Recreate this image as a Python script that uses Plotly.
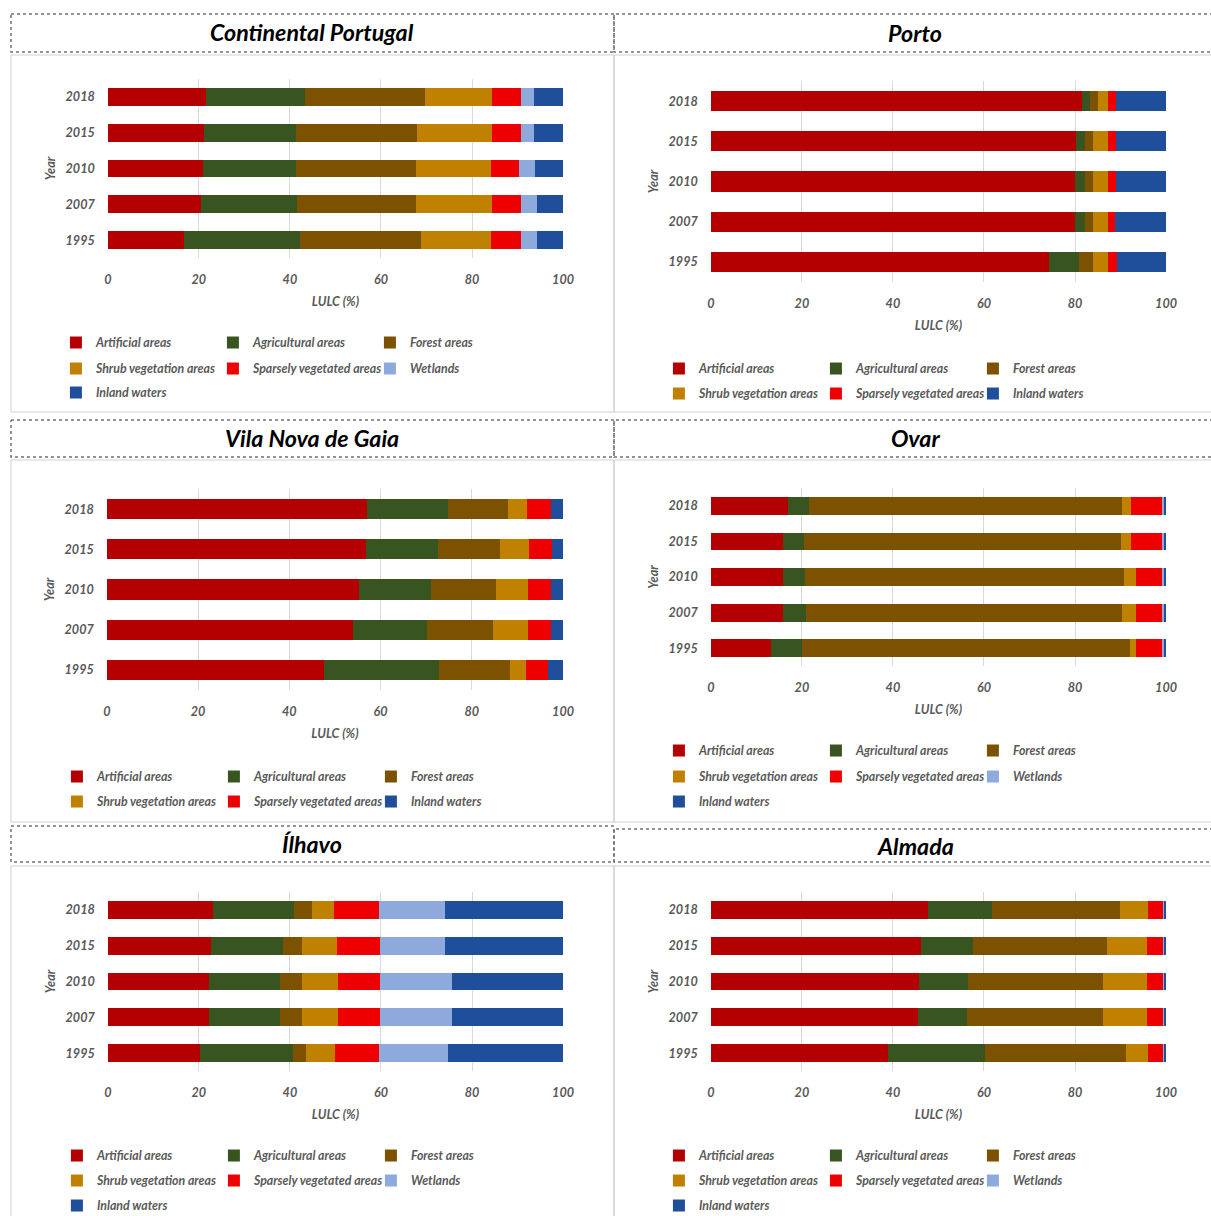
import plotly.graph_objects as go

W, H = 1211, 1216          # target picture size (all geometry below is in these pixels)
FW, FH = 1224, 1221        # figure size in CSS px (the capture is slightly downscaled)
K = FW / W                 # px scale for fonts / offsets
X_SHIFT = -3               # small horizontal correction of the capture
FONT = "Lato"

YEARS = ["1995", "2007", "2010", "2015", "2018"]
TICK_VALS = [0, 20, 40, 60, 80, 100]

CATEGORIES = ["Artificial areas", "Agricultural areas", "Forest areas",
              "Shrub vegetation areas", "Sparsely vegetated areas",
              "Wetlands", "Inland waters"]
COLORS = {
    "Artificial areas": "#B40000",
    "Agricultural areas": "#375421",
    "Forest areas": "#7C5200",
    "Shrub vegetation areas": "#C08000",
    "Sparsely vegetated areas": "#EE0000",
    "Wetlands": "#8EA9DB",
    "Inland waters": "#1F4E9A",
}

# ---- data (order of YEARS: 1995, 2007, 2010, 2015, 2018) ----
cp_artificial = [16.8, 20.4, 20.8, 21.1, 21.5]
cp_agricultural = [25.5, 21.1, 20.6, 20.3, 21.9]
cp_forest = [26.4, 26.2, 26.4, 26.5, 26.3]
cp_shrub = [15.5, 16.7, 16.3, 16.5, 14.7]
cp_sparse = [6.5, 6.3, 6.3, 6.3, 6.3]
cp_wetlands = [3.5, 3.5, 3.5, 3.0, 3.0]
cp_inland = [5.8, 5.8, 6.1, 6.3, 6.3]

porto_artificial = [74.2, 80.0, 80.0, 80.2, 81.5]
porto_agricultural = [6.7, 2.1, 2.1, 2.0, 1.8]
porto_forest = [3.0, 1.9, 1.9, 1.8, 1.8]
porto_shrub = [3.4, 3.3, 3.2, 3.3, 2.2]
porto_sparse = [1.9, 1.5, 1.7, 1.6, 1.6]
porto_inland = [10.8, 11.2, 11.1, 11.1, 11.1]

vng_artificial = [47.5, 54.0, 55.2, 56.7, 57.0]
vng_agricultural = [25.2, 16.1, 15.8, 15.8, 17.7]
vng_forest = [15.6, 14.5, 14.2, 13.6, 13.3]
vng_shrub = [3.6, 7.7, 7.1, 6.4, 4.0]
vng_sparse = [4.9, 5.1, 5.1, 5.0, 5.4]
vng_inland = [3.2, 2.6, 2.6, 2.5, 2.6]

ovar_artificial = [13.3, 15.9, 15.9, 15.9, 16.9]
ovar_agricultural = [6.8, 4.9, 4.8, 4.6, 4.7]
ovar_forest = [71.9, 69.6, 70.0, 69.6, 68.8]
ovar_shrub = [1.5, 3.1, 2.8, 2.1, 1.8]
ovar_sparse = [5.7, 5.7, 5.7, 7.0, 7.0]
ovar_wetlands = [0.4, 0.4, 0.4, 0.4, 0.4]
ovar_inland = [0.4, 0.4, 0.4, 0.4, 0.4]

ilhavo_artificial = [20.2, 22.3, 22.3, 22.6, 23.2]
ilhavo_agricultural = [20.4, 15.6, 15.6, 15.9, 17.6]
ilhavo_forest = [3.0, 4.8, 4.8, 4.1, 4.1]
ilhavo_shrub = [6.2, 7.9, 7.9, 7.8, 4.7]
ilhavo_sparse = [9.7, 9.2, 9.2, 9.4, 10.0]
ilhavo_wetlands = [15.2, 15.7, 15.7, 14.3, 14.5]
ilhavo_inland = [25.3, 24.5, 24.5, 25.9, 25.9]

almada_artificial = [39.0, 45.5, 45.8, 46.2, 47.6]
almada_agricultural = [21.3, 10.7, 10.6, 11.4, 14.2]
almada_forest = [30.9, 30.0, 29.8, 29.5, 28.1]
almada_shrub = [4.9, 9.6, 9.6, 8.7, 6.2]
almada_sparse = [3.4, 3.7, 3.7, 3.7, 3.4]
almada_wetlands = [0.1, 0.1, 0.1, 0.1, 0.1]
almada_inland = [0.4, 0.4, 0.4, 0.4, 0.4]

PANEL_TITLES = ["Continental Portugal", "Porto", "Vila Nova de Gaia",
                "Ovar", "Ílhavo", "Almada"]
PANEL_SERIES = [
    {"Artificial areas": cp_artificial, "Agricultural areas": cp_agricultural,
     "Forest areas": cp_forest, "Shrub vegetation areas": cp_shrub,
     "Sparsely vegetated areas": cp_sparse, "Wetlands": cp_wetlands,
     "Inland waters": cp_inland},
    {"Artificial areas": porto_artificial, "Agricultural areas": porto_agricultural,
     "Forest areas": porto_forest, "Shrub vegetation areas": porto_shrub,
     "Sparsely vegetated areas": porto_sparse, "Inland waters": porto_inland},
    {"Artificial areas": vng_artificial, "Agricultural areas": vng_agricultural,
     "Forest areas": vng_forest, "Shrub vegetation areas": vng_shrub,
     "Sparsely vegetated areas": vng_sparse, "Inland waters": vng_inland},
    {"Artificial areas": ovar_artificial, "Agricultural areas": ovar_agricultural,
     "Forest areas": ovar_forest, "Shrub vegetation areas": ovar_shrub,
     "Sparsely vegetated areas": ovar_sparse, "Wetlands": ovar_wetlands,
     "Inland waters": ovar_inland},
    {"Artificial areas": ilhavo_artificial, "Agricultural areas": ilhavo_agricultural,
     "Forest areas": ilhavo_forest, "Shrub vegetation areas": ilhavo_shrub,
     "Sparsely vegetated areas": ilhavo_sparse, "Wetlands": ilhavo_wetlands,
     "Inland waters": ilhavo_inland},
    {"Artificial areas": almada_artificial, "Agricultural areas": almada_agricultural,
     "Forest areas": almada_forest, "Shrub vegetation areas": almada_shrub,
     "Sparsely vegetated areas": almada_sparse, "Wetlands": almada_wetlands,
     "Inland waters": almada_inland},
]

# ---- layout geometry (target pixels); box edges given as polylines ----
R = 1214  # right picture edge (before the X_SHIFT correction)
GEOM = [
    dict(plot_x=(107, 563), plot_y=(79, 258),
         tbox=[(10, 14), (614, 14), (614, 52), (10, 52), (10, 14)],
         body=[(10, 55), (614, 55), (614, 412), (10, 412), (10, 55)],
         title_x=312, title_y=32, leg_rows=(343, 369, 393), leg_text_x=96),
    dict(plot_x=(711, 1167), plot_y=(81, 282),
         tbox=[(R, 14), (614, 14), (614, 52), (R, 52)],
         body=[(R, 55), (614, 55), (614, 412), (R, 412)],
         title_x=916, title_y=33, leg_rows=(369, 394), leg_text_x=700),
    dict(plot_x=(106, 563), plot_y=(489, 690),
         tbox=[(10, 420), (614, 420), (614, 457), (10, 457), (10, 420)],
         body=[(10, 460), (614, 460), (614, 822), (10, 822), (10, 460)],
         title_x=312, title_y=438, leg_rows=(777, 802), leg_text_x=97),
    dict(plot_x=(711, 1167), plot_y=(488, 666),
         tbox=[(R, 420), (614, 420), (614, 457), (R, 457)],
         body=[(R, 460), (614, 460), (614, 822), (R, 822)],
         title_x=916, title_y=438, leg_rows=(751, 777, 802), leg_text_x=700),
    dict(plot_x=(107, 563), plot_y=(892, 1071),
         tbox=[(10, 826), (614, 826), (614, 862), (10, 862), (10, 826)],
         body=[(10, 1216), (10, 866), (614, 866), (614, 1216)],
         title_x=312, title_y=844, leg_rows=(1156, 1181, 1206), leg_text_x=97),
    dict(plot_x=(711, 1167), plot_y=(892, 1071),
         tbox=[(R, 829), (614, 829), (614, 862), (R, 862)],
         body=[(614, 1216), (614, 866), (R, 866)],
         title_x=916, title_y=846, leg_rows=(1156, 1181, 1206), leg_text_x=700),
]

TEXT_GRAY = "#595959"
tick_font = dict(family=FONT, size=12.5 * K, color=TEXT_GRAY, weight="bold", style="italic")


def px_x(v):
    return (v + X_SHIFT) / W


def px_y(v):
    return 1 - v / H


def poly_path(points):
    return "M " + " L ".join("%.5f,%.5f" % (px_x(a), px_y(b)) for a, b in points)


fig = go.Figure()
layout = dict(
    width=FW, height=FH, margin=dict(l=0, r=0, t=0, b=0),
    paper_bgcolor="white", plot_bgcolor="white",
    barmode="stack", font=dict(family=FONT),
    hovermode=False,
)
shapes = []
annotations = []
legend_counter = 0

for p, (title, series) in enumerate(zip(PANEL_TITLES, PANEL_SERIES)):
    g = GEOM[p]
    sfx = "" if p == 0 else str(p + 1)
    xa, ya = "x" + sfx, "y" + sfx

    cats = [c for c in CATEGORIES if c in series]
    legend_names = []
    for r in range((len(cats) + 2) // 3):
        legend_counter += 1
        lname = "legend" if legend_counter == 1 else "legend%d" % legend_counter
        legend_names.append(lname)
        layout[lname] = dict(
            orientation="h", x=px_x(g["leg_text_x"] - 41), y=px_y(g["leg_rows"][r]),
            xanchor="left", yanchor="middle", xref="paper", yref="paper",
            entrywidth=round(155 * K - 45), entrywidthmode="pixels", bgcolor="rgba(0,0,0,0)",
            traceorder="normal",
            font=dict(family=FONT, size=12.2 * K, color=TEXT_GRAY, weight="bold", style="italic"),
            itemclick=False, itemdoubleclick=False, tracegroupgap=0,
        )

    for i, c in enumerate(cats):
        fig.add_trace(go.Bar(
            x=series[c], y=YEARS, orientation="h", name=c,
            marker=dict(color=COLORS[c], line=dict(width=0)),
            xaxis=xa, yaxis=ya, legend=legend_names[i // 3], width=0.5,
        ))

    layout["xaxis" + sfx] = dict(
        domain=[px_x(g["plot_x"][0]), px_x(g["plot_x"][1])], anchor=ya,
        range=[0, 100], tickvals=TICK_VALS, showgrid=True, gridcolor="#d9d9d9",
        gridwidth=1, zeroline=False, showline=False, ticks="",
        ticklabelstandoff=12, tickfont=tick_font, fixedrange=True,
        title=dict(text="LULC (%)", font=tick_font, standoff=11),
    )
    layout["yaxis" + sfx] = dict(
        domain=[px_y(g["plot_y"][1]), px_y(g["plot_y"][0])], anchor=xa,
        type="category", categoryorder="array", categoryarray=YEARS,
        showgrid=False, zeroline=False, showline=False, ticks="",
        ticklabelstandoff=12, tickfont=tick_font, fixedrange=True,
        title=dict(text="Year", font=tick_font, standoff=7),
    )

    shapes.append(dict(type="path", xref="paper", yref="paper", path=poly_path(g["body"]),
                       line=dict(color="#d0d0d0", width=1), layer="below"))
    shapes.append(dict(type="path", xref="paper", yref="paper", path=poly_path(g["tbox"]),
                       line=dict(color="#707070", width=1.5, dash="dot")))
    annotations.append(dict(
        text=title, xref="paper", yref="paper",
        x=px_x(g["title_x"]), y=px_y(g["title_y"]), xanchor="center", yanchor="middle",
        showarrow=False,
        font=dict(family=FONT, size=23 * K, color="black", weight="bold", style="italic"),
    ))

layout["shapes"] = shapes
layout["annotations"] = annotations
fig.update_layout(**layout)
fig.write_html("out.html", config={"displayModeBar": False},
               post_script="document.body.style.margin='0';document.body.style.overflow='hidden';")
